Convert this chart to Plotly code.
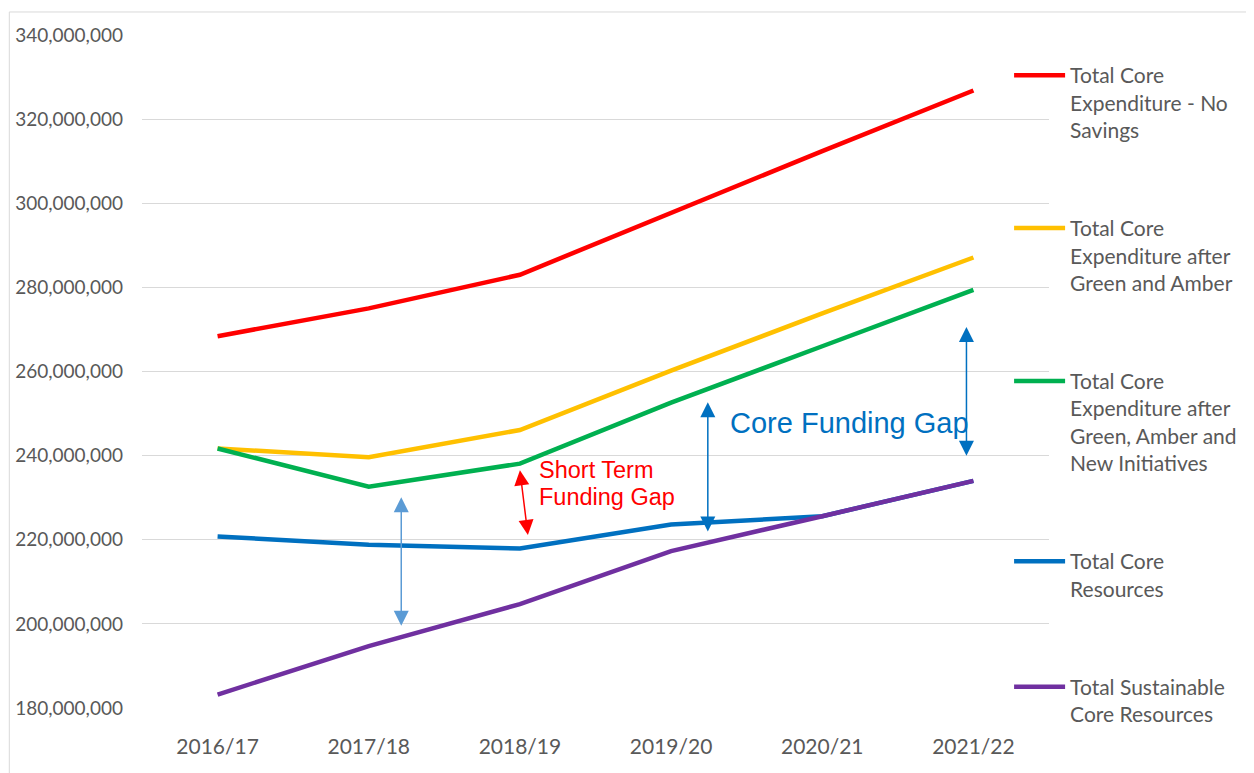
import plotly.graph_objects as go

# --- DATA ---
years = ["2016/17", "2017/18", "2018/19", "2019/20", "2020/21", "2021/22"]

no_savings = [268.4e6, 275.0e6, 283.0e6, 297.8e6, 312.4e6, 326.8e6]
green_amber = [241.7e6, 239.6e6, 246.1e6, 260.2e6, 273.8e6, 287.1e6]
green_amber_new = [241.7e6, 232.6e6, 238.1e6, 252.6e6, 266.0e6, 279.4e6]
core_resources = [220.8e6, 218.8e6, 217.9e6, 223.6e6, 225.6e6, 234.0e6]
sustainable = [183.2e6, 194.7e6, 204.7e6, 217.3e6, 225.6e6, 234.0e6]

series_names = [
    "Total Core<br>Expenditure - No<br>Savings",
    "Total Core<br>Expenditure after<br>Green and Amber",
    "Total Core<br>Expenditure after<br>Green, Amber and<br>New Initiatives",
    "Total Core<br>Resources",
    "Total Sustainable<br>Core Resources",
]
series_values = [no_savings, green_amber, green_amber_new, core_resources, sustainable]
series_colors = ["#FF0000", "#FFC000", "#00B050", "#0070C0", "#7030A0"]

y_ticks = list(range(180_000_000, 340_000_001, 20_000_000))

# gap arrows: (x from, y from, x to, y to, colour)
gap_arrows = [
    (1.215, 199.2e6, 1.215, 230.1e6, "#5B9BD5"),
    (2.054, 220.8e6, 2.0, 236.5e6, "#FF0000"),
    (3.243, 221.6e6, 3.243, 252.7e6, "#0070C0"),
    (4.954, 239.6e6, 4.954, 270.6e6, "#0070C0"),
]

fig = go.Figure()

for i, (name, vals, col) in enumerate(zip(series_names, series_values, series_colors)):
    fig.add_trace(go.Scatter(
        x=years, y=vals, name=name, mode="lines",
        line=dict(color=col, width=4.5),
        legendgroup=f"g{i}",
    ))

for x0, y0, x1, y1, col in gap_arrows:
    fig.add_annotation(
        x=x1, y=y1, ax=x0, ay=y0, xref="x", yref="y", axref="x", ayref="y",
        text="", showarrow=True, arrowside="end+start",
        arrowhead=2, startarrowhead=2, arrowsize=2, startarrowsize=2,
        arrowwidth=1.5, arrowcolor=col, standoff=0, startstandoff=0,
    )

fig.add_annotation(
    x=3.375, y=247.7e6, xref="x", yref="y", text="Core Funding Gap",
    showarrow=False, xanchor="left", yanchor="middle",
    font=dict(family="Liberation Sans, Arial", size=29, color="#0070C0"),
)
red_font = dict(family="Liberation Sans, Arial", size=23.5, color="#FF0000")
fig.add_annotation(
    x=2.114, y=236.6e6, xref="x", yref="y", text="Short Term",
    showarrow=False, xanchor="left", yanchor="middle", font=red_font,
)
fig.add_annotation(
    x=2.114, y=230.2e6, xref="x", yref="y", text="Funding Gap",
    showarrow=False, xanchor="left", yanchor="middle", font=red_font,
)

# outer chart border
fig.add_shape(type="rect", xref="paper", yref="paper",
              x0=-0.1463, x1=1.2211, y0=-0.2, y1=1.0342,
              line=dict(color="#D9D9D9", width=1), fillcolor="rgba(0,0,0,0)", layer="below")
# gridlines stop where the legend box starts
fig.add_shape(type="rect", xref="paper", yref="paper",
              x0=0.9747, x1=1.01, y0=-0.01, y1=1.01,
              line=dict(width=0), fillcolor="white", layer="between")

fig.update_xaxes(
    type="category", range=[-0.5, 5.5], showgrid=False, zeroline=False,
    showline=False, ticks="", tickfont=dict(family="Lato", size=21, color="#595959"),
    ticklabelstandoff=24, automargin=False,
)
fig.update_yaxes(
    range=[180_000_000, 340_000_000], tickvals=y_ticks, tickformat=",d",
    showgrid=True, gridcolor="#D9D9D9", gridwidth=1, zeroline=False, showline=False,
    ticks="", tickfont=dict(family="Lato", size=19, color="#595959"),
    ticklabelstandoff=18, automargin=False,
)

# page body adds an 8px margin, so the figure is 8px smaller each way
fig.update_layout(
    width=1246, height=765,
    margin=dict(l=134, r=203, t=27, b=65),
    paper_bgcolor="white", plot_bgcolor="white",
    font=dict(family="Lato", color="#595959"),
    showlegend=True,
    legend=dict(
        x=0.956, y=0.9703, xanchor="left", yanchor="top",
        bgcolor="rgba(0,0,0,0)", borderwidth=0,
        font=dict(family="Lato", size=21, color="#595959"),
        tracegroupgap=68, itemwidth=51, valign="top",
        traceorder="grouped", maxheight=760,
    ),
)

fig.write_html("out.html")
